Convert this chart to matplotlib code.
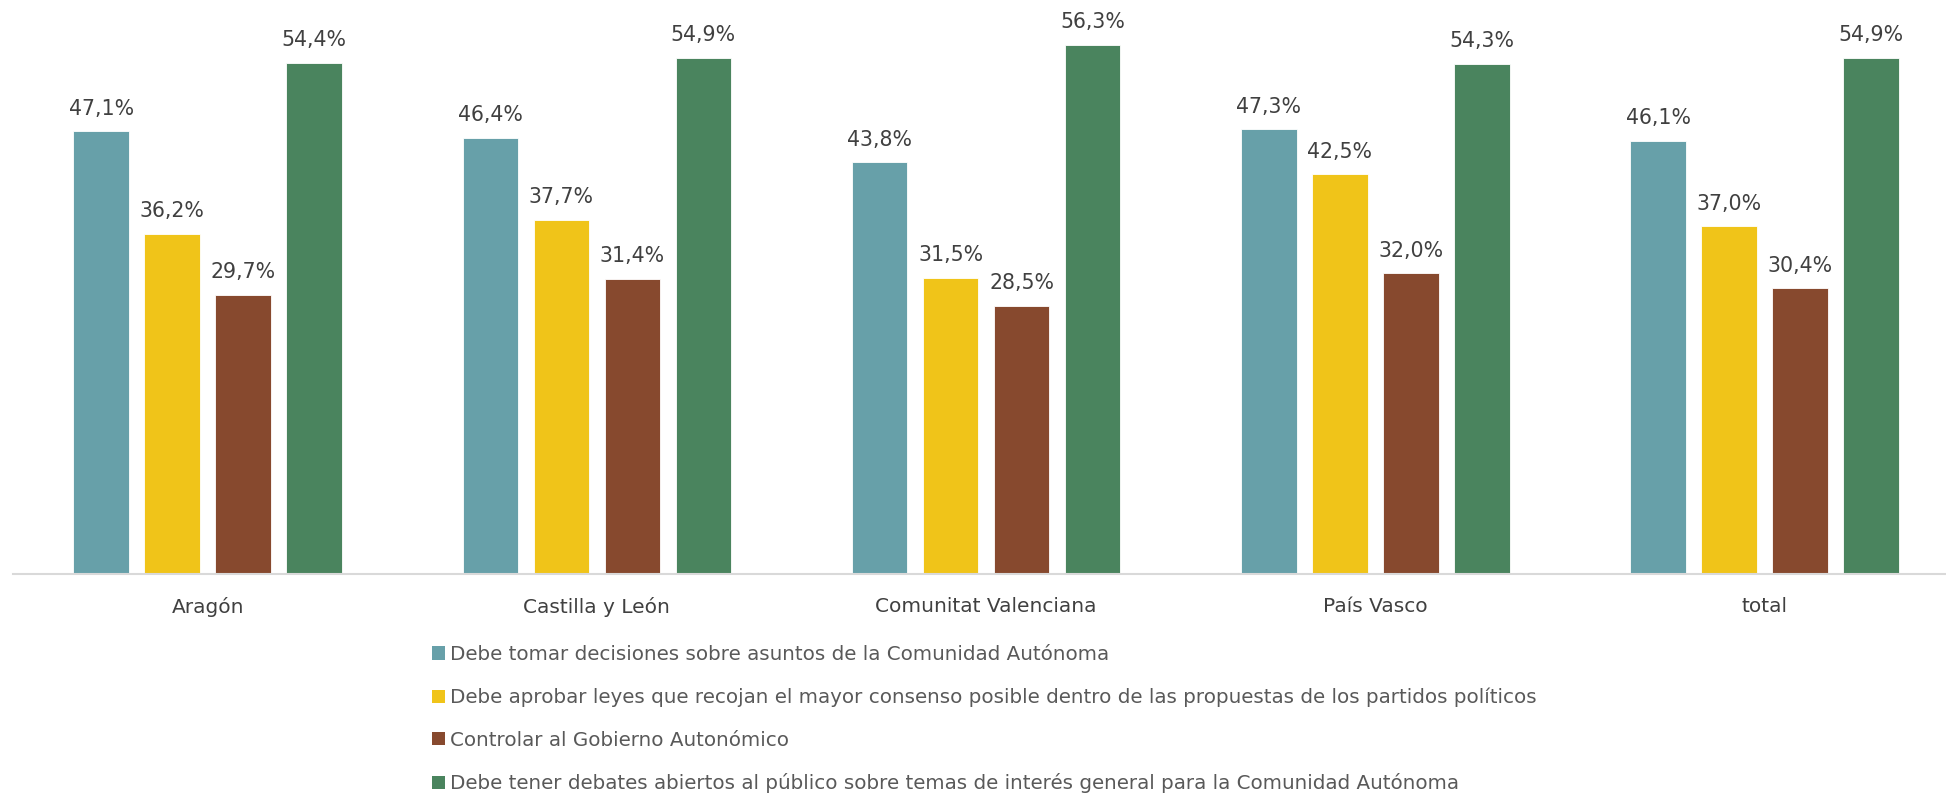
import matplotlib.pyplot as plt
import numpy as np
from matplotlib.patches import Patch

regions = ["Aragón", "Castilla y León", "Comunitat Valenciana", "País Vasco", "total"]
series_names = [
    "Debe tomar decisiones sobre asuntos de la Comunidad Autónoma",
    "Debe aprobar leyes que recojan el mayor consenso posible dentro de las propuestas de los partidos políticos",
    "Controlar al Gobierno Autonómico",
    "Debe tener debates abiertos al público sobre temas de interés general para la Comunidad Autónoma",
]
decisiones = [47.1, 46.4, 43.8, 47.3, 46.1]
leyes = [36.2, 37.7, 31.5, 42.5, 37.0]
controlar = [29.7, 31.4, 28.5, 32.0, 30.4]
debates = [54.4, 54.9, 56.3, 54.3, 54.9]
colors = ["#67A0A9", "#F0C419", "#87492E", "#4A845E"]

W, H = 1946, 798
fig = plt.figure(figsize=(W / 100, H / 100), dpi=100)
# one group is ~389 px wide, the last one runs a bit past the right edge
ax = fig.add_axes([13 / W, (H - 574) / H, 5 * 389.25 / W, 574 / H])

x = np.arange(len(regions))
width = 0.1426
step = 0.1824
for i, (vals, col) in enumerate(zip([decisiones, leyes, controlar, debates], colors)):
    pos = x + (i - 1.5) * step
    bars = ax.bar(pos, vals, width=width, color=col, edgecolor="white", linewidth=0.6)
    for b, v in zip(bars, vals):
        ax.annotate(f"{v:.1f}%".replace(".", ","), (b.get_x() + b.get_width() / 2, v),
                    xytext=(0, 12), textcoords="offset points", ha="center", va="baseline",
                    fontsize=14.8, color="#404040")

ax.set_xlim(-0.5, 4.5)
ax.set_ylim(0, 61.06)
ax.set_yticks([])
ax.set_xticks(x)
ax.set_xticklabels(regions, fontsize=14.5, color="#404040")
ax.tick_params(axis="x", length=0, pad=16.5)
for s in ["top", "right", "left"]:
    ax.spines[s].set_visible(False)
ax.spines["bottom"].set_color("#D9D9D9")
ax.spines["bottom"].set_linewidth(1.5)

handles = [Patch(facecolor=c) for c in colors]
leg = fig.legend(handles, series_names, loc="upper left", bbox_to_anchor=(432 / W, 1 - 645 / H),
                 frameon=False, ncol=1, handlelength=0.64, handleheight=0.65, handletextpad=0.25,
                 labelspacing=1.19, borderpad=0, borderaxespad=0, fontsize=14.3)
for t in leg.get_texts():
    t.set_color("#595959")

fig.savefig("out.png", dpi=100)
